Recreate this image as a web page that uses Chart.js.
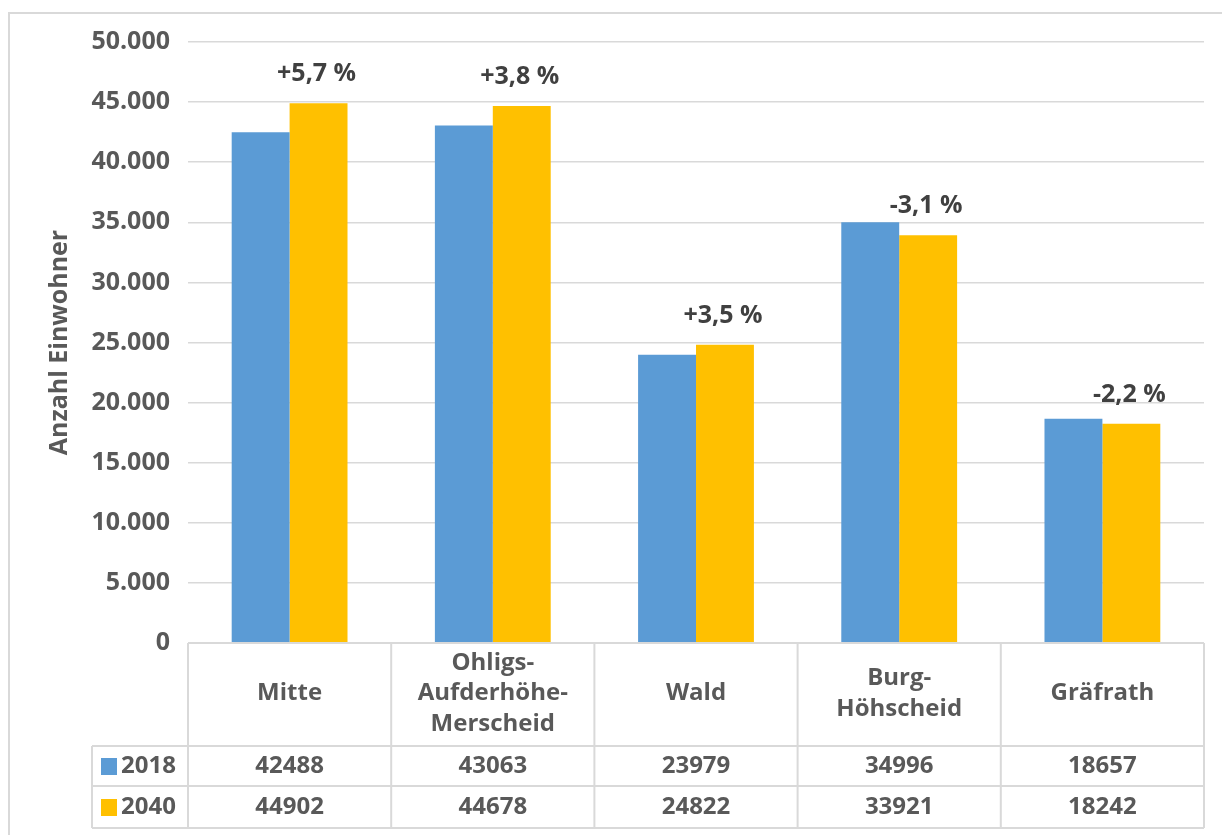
<!DOCTYPE html>
<html>
<head>
<meta charset="utf-8">
<script src="https://cdn.jsdelivr.net/npm/chart.js@4/dist/chart.umd.min.js"></script>
<style>
  body { margin: 0; background: #fff; }
  canvas { display: block; }
</style>
</head>
<body>
<canvas id="myChart" width="1222" height="835"></canvas>
<script>
// data
const categories = [['Mitte'], ['Ohligs-', 'Aufderhöhe-', 'Merscheid'], ['Wald'], ['Burg-', 'Höhscheid'], ['Gräfrath']]
const werte2018 = [42488, 43063, 23979, 34996, 18657]
const werte2040 = [44902, 44678, 24822, 33921, 18242]
const veraenderung = ['+5,7 %', '+3,8 %', '+3,5 %', '-3,1 %', '-2,2 %']
const serien = ['2018', '2040']

const blau = '#5B9BD5'
const gelb = '#FFC000'
const linie = '#D9D9D9'
const schrift = '"Open Sans", "Noto Sans", sans-serif'

// Rahmen + Datentabelle unter der Achse
const tabelle = {
    id: 'tabelle',
    beforeDraw(chart) {
        const ctx = chart.ctx
        ctx.save()
        ctx.strokeStyle = linie
        ctx.lineWidth = 2
        ctx.strokeRect(9, 13, 1400, 1000)
        ctx.restore()
    },
    afterDatasetsDraw(chart) {
        const ctx = chart.ctx
        const meta = chart.getDatasetMeta(1)
        ctx.save()
        ctx.font = 'bold 25px ' + schrift
        ctx.fillStyle = '#404040'
        ctx.textAlign = 'center'
        ctx.textBaseline = 'middle'
        meta.data.forEach((bar, i) => {
            ctx.fillText(veraenderung[i], bar.x - 2, bar.y - 29)
        })
        ctx.restore()
    },
    afterDraw(chart) {
        const ctx = chart.ctx
        const x = chart.scales.x
        const area = chart.chartArea
        const w = (area.right - area.left) / categories.length
        const top = area.bottom
        const r1 = 746, r2 = 786, r3 = 828
        const legLeft = 92
        ctx.save()
        ctx.strokeStyle = linie
        ctx.lineWidth = 2
        ctx.beginPath()
        ctx.moveTo(area.left, top); ctx.lineTo(area.right, top)
        ;[r1, r2, r3].forEach(y => { ctx.moveTo(legLeft, y); ctx.lineTo(area.right, y) })
        for (let i = 0; i <= categories.length; i++) {
            let xx = area.left + i * w
            ctx.moveTo(xx, top); ctx.lineTo(xx, r3)
        }
        ctx.moveTo(legLeft, r1); ctx.lineTo(legLeft, r3)
        ctx.stroke()

        ctx.font = 'bold 24px ' + schrift
        ctx.fillStyle = '#595959'
        ctx.textAlign = 'center'
        ctx.textBaseline = 'middle'
        const mid = (top + r1) / 2 - 1
        categories.forEach((lines, i) => {
            const cx = x.getPixelForValue(i)
            const lh = 30.5
            lines.forEach((t, j) => {
                ctx.fillText(t, cx, mid + (j - (lines.length - 1) / 2) * lh)
            })
            ctx.fillText(String(werte2018[i]), cx, (r1 + r2) / 2)
            ctx.fillText(String(werte2040[i]), cx, (r2 + r3) / 2)
        })
        // legend keys
        ctx.textAlign = 'left'
        ;[[blau, serien[0], (r1 + r2) / 2], [gelb, serien[1], (r2 + r3) / 2]].forEach(([c, t, y]) => {
            ctx.fillStyle = c
            ctx.fillRect(101, y - 8, 16, 17)
            ctx.fillStyle = '#595959'
            ctx.fillText(t, 121, y)
        })
        ctx.restore()
    }
}

var canvas = document.getElementById("myChart")
var myChart = new Chart(canvas, {
    type: 'bar',
    data: {
        labels: categories,
        datasets: [{
            label: serien[0],
            data: werte2018,
            backgroundColor: blau
        },
        {
            label: serien[1],
            data: werte2040,
            backgroundColor: gelb
        }]
    },
    options: {
        responsive: false,
        animation: false,
        layout: { padding: { top: 42, right: 18, bottom: 192, left: 0 } },
        datasets: { bar: { categoryPercentage: 0.57, barPercentage: 1.0 } },
        plugins: {
            legend: { display: false },
            tooltip: { enabled: false }
        },
        scales: {
            x: { display: false },
            y: {
                min: 0,
                max: 50000,
                afterFit: (s) => { s.width = 188 },
                border: { display: false },
                grid: { color: linie, lineWidth: 1.5, drawTicks: false },
                ticks: {
                    stepSize: 5000,
                    padding: 18,
                    color: '#595959',
                    font: { family: schrift, size: 25, weight: 'bold' },
                    callback: (v) => v === 0 ? '0' : v.toLocaleString('de-DE', { minimumFractionDigits: 0 })
                },
                title: {
                    display: true,
                    text: 'Anzahl Einwohner',
                    color: '#595959',
                    padding: { top: 45 },
                    font: { family: schrift, size: 25, weight: 'bold' }
                }
            }
        }
    },
    plugins: [tabelle]
})
</script>
</body>
</html>
